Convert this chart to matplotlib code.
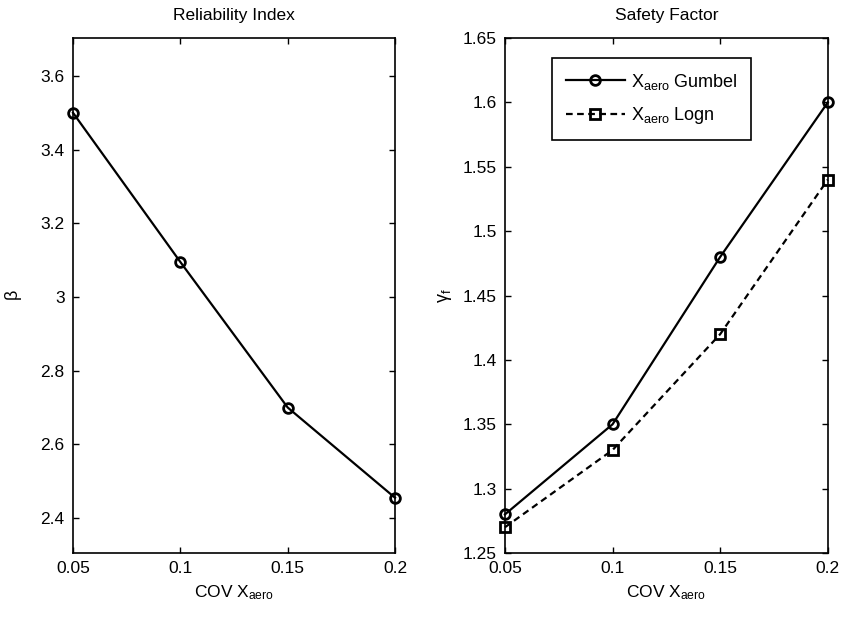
import matplotlib
matplotlib.use("Agg")
import matplotlib.pyplot as plt

# values
cov = [0.05, 0.1, 0.15, 0.2]
beta = [3.50, 3.095, 2.70, 2.455]
gamma_gumbel = [1.28, 1.35, 1.48, 1.60]
gamma_logn = [1.27, 1.33, 1.42, 1.54]

left_yticks = [2.4, 2.6, 2.8, 3.0, 3.2, 3.4, 3.6]
right_yticks = [1.25, 1.3, 1.35, 1.4, 1.45, 1.5, 1.55, 1.6, 1.65]
xticks = [0.05, 0.1, 0.15, 0.2]

plt.rcParams["font.family"] = ["Liberation Sans", "DejaVu Sans"]
plt.rcParams["font.size"] = 12.5
plt.rcParams["mathtext.fontset"] = "custom"
plt.rcParams["mathtext.rm"] = "Liberation Sans"
plt.rcParams["mathtext.it"] = "Liberation Sans"


def style_axes(ax):
    ax.tick_params(direction="in", top=True, right=True, length=4, width=1,
                   labelsize=12.5, pad=6)
    for s in ax.spines.values():
        s.set_linewidth(1.2)
    ax.set_xlim(0.05, 0.2)
    ax.set_xticks(xticks)
    ax.set_xticklabels(["0.05", "0.1", "0.15", "0.2"])
    ax.set_xlabel(r"COV X$_{\mathrm{aero}}$", fontsize=12.5, labelpad=5)


fig = plt.figure(figsize=(8.43, 6.19), dpi=100)

# left: reliability index
ax1 = fig.add_axes([0.0866, 0.1066, 0.382, 0.832])
ax1.plot(cov, beta, "-o", color="black", lw=1.6, ms=7, mew=2,
         mfc="none", mec="black", clip_on=False, zorder=3)
ax1.set_ylim(2.305, 3.703)
ax1.set_yticks(left_yticks)
ax1.set_yticklabels(["2.4", "2.6", "2.8", "3", "3.2", "3.4", "3.6"])
ax1.set_title("Reliability Index", fontsize=12.5, pad=13)
ax1.set_ylabel(r"$\beta$", fontsize=13, labelpad=12)
style_axes(ax1)

# right: safety factor
ax2 = fig.add_axes([0.599, 0.1066, 0.383, 0.832])
ax2.plot(cov, gamma_gumbel, "-o", color="black", lw=1.6, ms=7, mew=2,
         mfc="none", mec="black", clip_on=False, zorder=3,
         label=r"X$_{\mathrm{aero}}$ Gumbel")
ax2.plot(cov, gamma_logn, "--s", color="black", lw=1.6, ms=7.5, mew=2,
         mfc="none", mec="black", clip_on=False, zorder=3,
         dashes=(3, 2), label=r"X$_{\mathrm{aero}}$ Logn")
ax2.set_ylim(1.25, 1.65)
ax2.set_yticks(right_yticks)
ax2.set_yticklabels(["1.25", "1.3", "1.35", "1.4", "1.45", "1.5", "1.55",
                     "1.6", "1.65"])
ax2.set_title("Safety Factor", fontsize=12.5, pad=13)
ax2.set_ylabel(r"$\gamma_f$", fontsize=13, labelpad=6)
style_axes(ax2)

leg = ax2.legend(loc="upper left", bbox_to_anchor=(0.146, 0.961),
                 borderaxespad=0, fancybox=False, edgecolor="black",
                 framealpha=1, fontsize=13, handlelength=3.3, borderpad=0.75,
                 labelspacing=0.75, handletextpad=0.3)
leg.get_frame().set_linewidth(1.2)

fig.savefig("out.png", dpi=100)
